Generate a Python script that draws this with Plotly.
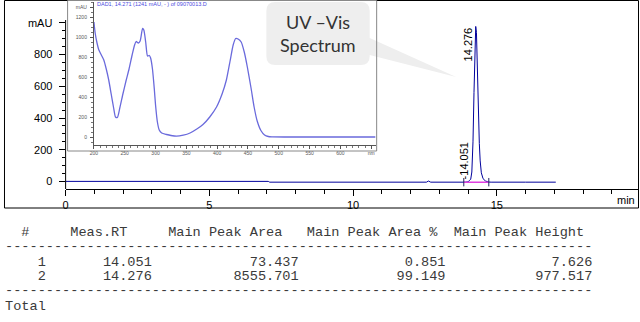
import plotly.graph_objects as go

# ---------------- data ----------------
# chromatogram (time in min, signal in mAU)
chrom_time = [0.0, 1.10, 1.15, 1.20, 3.0, 5.0, 7.05, 7.10, 9.0, 11.0, 12.55, 12.62, 12.70,
              13.90, 14.00, 14.05, 14.09, 14.13, 14.17, 14.205, 14.235, 14.265, 14.29,
              14.31, 14.335, 14.36, 14.39, 14.42, 14.46, 14.52, 14.60, 14.70, 14.80,
              16.0, 17.05]
chrom_signal = [1, 1, 5, 1, 1, 1, 1, -4, -4, -4, -4, 3, -4,
                -4, -2, 8, 14, 60, 250, 560, 880, 977, 940,
                780, 520, 360, 240, 130, 55, 18, 4, -3, -4,
                -4, -4]

# integration baseline
integ_time = [13.85, 14.72]
integ_signal = [-4, -4]

# integrated peaks / report table
peak_no = [1, 2]
peak_rt = [14.051, 14.276]
peak_area = [73.437, 8555.701]
peak_area_pct = [0.851, 99.149]
peak_height = [7.626, 977.517]

# main axis ticks
x_tickvals = [0, 5, 10, 15]
x_ticktext = ["0", "5", "10", "15"]
x_minor = [1, 2, 3, 4, 6, 7, 8, 9, 11, 12, 13, 14, 16, 17, 18, 19]
y_tickvals = [0, 200, 400, 600, 800, 1000]
y_ticktext = ["0", "200", "400", "600", "800", "mAU"]
y_minor = [-50, 50, 100, 150, 250, 300, 350, 450, 500, 550, 650, 700, 750, 850, 900, 950]

# UV-Vis spectrum (inset)
spec_nm = [200, 202, 205, 208, 212, 216, 220, 224, 228, 232, 235, 238, 242, 247, 252, 257,
           262, 266, 268.5, 272, 275, 279, 281, 284, 287, 290, 292, 295, 298, 300, 303,
           306, 310, 318, 325, 334, 345, 356, 367, 377, 388, 399, 408, 415, 421, 426,
           430, 434, 439, 444, 449, 455, 460, 465, 471, 477, 483, 490, 520, 560, 600, 657]
spec_mau = [1150, 1040, 940, 870, 820, 770, 680, 570, 430, 290, 200, 195, 290, 430, 560, 680,
            820, 920, 955, 940, 960, 1085, 1070, 950, 810, 815, 790, 680, 480, 320, 150,
            70, 40, 25, 15, 8, 18, 40, 80, 125, 200, 300, 430, 570, 760, 920,
            985, 980, 950, 850, 700, 490, 300, 160, 65, 20, 5, 2, 0, 0, 0, 0]
inset_x_tickvals = [200, 250, 300, 350, 400, 450, 500, 550, 600, 650]
inset_x_ticktext = ["200", "250", "300", "350", "400", "450", "500", "550", "600", "nm"]
inset_y_tickvals = [0, 200, 400, 600, 800, 1000, 1200, 1300]
inset_y_ticktext = ["0", "200", "400", "600", "800", "1000", "1200", "mAU"]
inset_title = "DAD1, 14.271 (1241 mAU, - ) of 09070013.D"

callout_lines = ["UV \u2013Vis", "Spectrum"]

W, H = 640, 322


def px(x):
    return x / W


def py(y):
    return 1 - y / H


fig = go.Figure()

fig.add_trace(go.Scatter(x=chrom_time, y=chrom_signal, mode="lines",
                         line=dict(color="#00009C", width=1), xaxis="x", yaxis="y",
                         hoverinfo="skip", showlegend=False))
fig.add_trace(go.Scatter(x=integ_time, y=integ_signal, mode="lines+markers",
                         line=dict(color="#E040E0", width=1.5),
                         marker=dict(symbol="line-ns-open", size=6, color="#202060",
                                     line=dict(width=1, color="#202060")),
                         xaxis="x", yaxis="y", hoverinfo="skip", showlegend=False))
fig.add_trace(go.Scatter(x=spec_nm, y=spec_mau, mode="lines",
                         line=dict(color="#6A6ADC", width=1.3, shape="spline", smoothing=0.6),
                         xaxis="x2", yaxis="y2", hoverinfo="skip", showlegend=False))

axfont = dict(family="Liberation Sans, Arial", size=11, color="black")
small = dict(family="Liberation Sans, Arial", size=5, color="#555555")

fig.update_layout(
    width=W, height=H, margin=dict(l=0, r=0, t=0, b=0),
    paper_bgcolor="white", plot_bgcolor="rgba(0,0,0,0)", showlegend=False,
    xaxis=dict(domain=[62 / W, 638 / W], range=[0, 19.91], anchor="y",
               showline=True, linecolor="black", linewidth=1,
               ticks="outside", ticklen=6, tickcolor="black",
               tickmode="array", tickvals=x_tickvals, ticktext=x_ticktext,
               minor=dict(tickmode="array", tickvals=x_minor, ticks="outside",
                          ticklen=4, tickcolor="black"),
               showgrid=False, zeroline=False, tickfont=axfont),
    yaxis=dict(domain=[(H - 189) / H, (H - 2) / H], range=[-47, 1131], anchor="x",
               showline=False, ticks="outside", ticklen=6, tickcolor="black",
               tickmode="array", tickvals=y_tickvals, ticktext=y_ticktext,
               minor=dict(tickmode="array", tickvals=y_minor, ticks="outside",
                          ticklen=3, tickcolor="black"),
               showgrid=False, zeroline=False, tickfont=axfont, ticklabelstandoff=4),
    xaxis2=dict(domain=[90.5 / W, 374 / W], range=[200, 657.3], anchor="y2",
                showline=True, linecolor="#555555", linewidth=1,
                ticks="outside", ticklen=3, tickcolor="#555555",
                tickmode="array", tickvals=inset_x_tickvals, ticktext=inset_x_ticktext,
                minor=dict(dtick=10, tick0=200, ticks="outside", ticklen=2, tickcolor="#777777"),
                showgrid=False, zeroline=False, tickfont=small, ticklabelstandoff=0),
    yaxis2=dict(domain=[(H - 145) / H, (H - 2) / H], range=[-80, 1350], anchor="x2",
                showline=True, linecolor="#555555", linewidth=1,
                ticks="outside", ticklen=3, tickcolor="#555555",
                tickmode="array", tickvals=inset_y_tickvals, ticktext=inset_y_ticktext,
                minor=dict(dtick=50, tick0=0, ticks="outside", ticklen=2, tickcolor="#777777"),
                showgrid=False, zeroline=False, tickfont=small, ticklabelstandoff=2),
)

shapes = []
# outer frame of chromatogram
shapes.append(dict(type="rect", xref="paper", yref="paper", x0=px(0.5), x1=px(638.5),
                   y0=py(208), y1=py(0.5), line=dict(color="black", width=1)))
# main y axis line
shapes.append(dict(type="line", xref="paper", yref="paper", x0=px(62), x1=px(62),
                   y0=py(189), y1=py(20), line=dict(color="black", width=1)))

# callout bubble (rounded box + tail)
bx0, bx1, by0, by1, r = 264, 368, 2, 65, 9
path = (f"M {px(bx0 + r)},{py(by0)} L {px(bx1 - r)},{py(by0)} "
        f"Q {px(bx1)},{py(by0)} {px(bx1)},{py(by0 + r)} "
        f"L {px(bx1)},{py(38)} L {px(455)},{py(77)} L {px(bx1)},{py(55)} "
        f"L {px(bx1)},{py(by1 - r)} Q {px(bx1)},{py(by1)} {px(bx1 - r)},{py(by1)} "
        f"L {px(bx0 + r)},{py(by1)} Q {px(bx0)},{py(by1)} {px(bx0)},{py(by1 - r)} "
        f"L {px(bx0)},{py(by0 + r)} Q {px(bx0)},{py(by0)} {px(bx0 + r)},{py(by0)} Z")
shapes.append(dict(type="path", xref="paper", yref="paper", path=path,
                   fillcolor="#EEEEEE", line=dict(width=0), layer="above"))
# inset frame
shapes.append(dict(type="rect", xref="paper", yref="paper", x0=px(64), x1=px(375),
                   y0=py(151), y1=py(0.5), line=dict(color="#888888", width=1), layer="above"))
fig.update_layout(shapes=shapes)

ann = []
# peak labels
ann.append(dict(x=peak_rt[1], y=peak_height[1], xref="x", yref="y", text=f"{peak_rt[1]:.3f}",
                textangle=-90, showarrow=False, xanchor="right", yanchor="top", xshift=-1,
                font=axfont, borderpad=0))
ann.append(dict(x=peak_rt[0], y=peak_height[0], xref="x", yref="y", text=f"-{peak_rt[0]:.3f}",
                textangle=-90, showarrow=False, xanchor="right", yanchor="bottom", xshift=1,
                font=axfont, borderpad=0))
# min unit
ann.append(dict(x=px(626), y=py(200), xref="paper", yref="paper", text="min",
                showarrow=False, font=axfont, xanchor="center", yanchor="middle"))
# inset title
ann.append(dict(x=px(93), y=py(3.5), xref="paper", yref="paper", text=inset_title,
                showarrow=False, font=dict(family="Liberation Sans, Arial", size=5.5, color="#4A4AE0"),
                xanchor="left", yanchor="middle", borderpad=0))
# callout text
for txt, yy in zip(callout_lines, [21.5, 45]):
    ann.append(dict(x=px(316), y=py(yy), xref="paper", yref="paper", text=txt,
                    showarrow=False, font=dict(family="Lato, Open Sans", size=18, color="#333333"),
                    xanchor="center", yanchor="middle"))

# report table
header = ("  #" + " " * 5 + "Meas.RT" + " " * 5 + "Main Peak Area" + " " * 3 +
          "Main Peak Area %" + " " * 2 + "Main Peak Height")
dashes = "-" * 72
rows = []
for n, rt, a, ap, h in zip(peak_no, peak_rt, peak_area, peak_area_pct, peak_height):
    rows.append(" " * 4 + f"{n}" + " " * 7 + f"{rt:.3f}" + f"{a:.3f}".rjust(18) +
                f"{ap:.3f}".rjust(18) + f"{h:.3f}".rjust(18))
lines = [(header, 232), (dashes, 246), (rows[0], 262), (rows[1], 276), (dashes, 290), ("Total", 306)]
mono = dict(family="Liberation Mono, Courier New", size=13.6, color="#3A3A3A")
for txt, yy in lines:
    ann.append(dict(x=0, y=py(yy), xref="paper", yref="paper", text=txt.replace(" ", "\u00a0"),
                    showarrow=False, font=mono, xanchor="left", yanchor="middle", borderpad=0))

fig.update_layout(annotations=ann)

fig.write_html("out.html")
